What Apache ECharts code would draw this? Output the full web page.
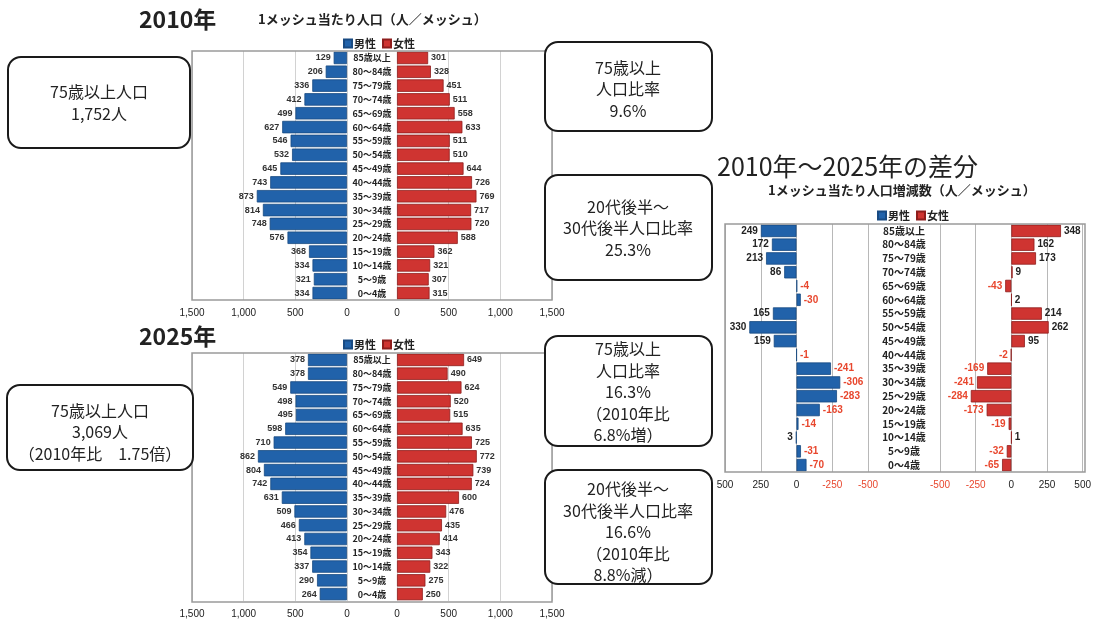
<!DOCTYPE html>
<html><head><meta charset="utf-8">
<script src="https://cdn.jsdelivr.net/npm/echarts@6/dist/echarts.min.js"></script>
<style>html,body{margin:0;padding:0;background:#fff}#c{width:1094px;height:619px}</style>
</head><body><div id="c"></div>
<script>
const ageCats = ['85歳以上','80～84歳','75～79歳','70～74歳','65～69歳','60～64歳','55～59歳','50～54歳','45～49歳','40～44歳','35～39歳','30～34歳','25～29歳','20～24歳','15～19歳','10～14歳','5～9歳','0～4歳'];
const male2010 = [129,206,336,412,499,627,546,532,645,743,873,814,748,576,368,334,321,334];
const female2010 = [301,328,451,511,558,633,511,510,644,726,769,717,720,588,362,321,307,315];
const male2025 = [378,378,549,498,495,598,710,862,804,742,631,509,466,413,354,337,290,264];
const female2025 = [649,490,624,520,515,635,725,772,739,724,600,476,435,414,343,322,275,250];
const maleDiff = [249,172,213,86,-4,-30,165,330,159,-1,-241,-306,-283,-163,-14,3,-31,-70];
const femaleDiff = [348,162,173,9,-43,2,214,262,95,-2,-169,-241,-284,-173,-19,1,-32,-65];
const pyramidTicks = [0,500,1000,1500];
const diffTicks = [-500,-250,0,250,500];

const FONT = "'Noto Sans CJK JP', sans-serif";
const BLUE = '#2162aa', BLUE_B = '#184a82';
const RED = '#cf3431', RED_B = '#8e1d1c';
const NEG = '#e8472e';

const chart = echarts.init(document.getElementById('c'), null, {renderer:'canvas'});

function fmtThousands(v){ return String(v).replace(/\B(?=(\d{3})+(?!\d))/g, ','); }

function pyrX(grid, inverse){
  return {type:'value', gridIndex:grid, min:pyramidTicks[0], max:pyramidTicks[pyramidTicks.length-1], interval:pyramidTicks[1]-pyramidTicks[0],
    inverse:inverse, axisLine:{show:false}, axisTick:{show:false},
    splitLine:{show:true, lineStyle:{color:'#d2d2d2', width:1}},
    axisLabel:{formatter:fmtThousands, fontSize:10, color:'#222', margin:8, showMinLabel:true, showMaxLabel:true, fontFamily:'Liberation Sans'}};
}
function diffX(grid, inverse){
  return {type:'value', gridIndex:grid, min:diffTicks[0], max:diffTicks[diffTicks.length-1], interval:diffTicks[1]-diffTicks[0],
    inverse:inverse, axisLine:{show:false}, axisTick:{show:false},
    splitLine:{show:true, lineStyle:{color:'#b8b8b8', width:1}},
    axisLabel:{fontSize:10, color:'#222', margin:8, showMinLabel:true, showMaxLabel:true, fontFamily:'Liberation Sans',
      formatter:v => v < 0 ? '{n|' + v + '}' : '' + v, rich:{n:{color:NEG, fontSize:10, fontFamily:'Liberation Sans'}}}};
}
function catY(grid, showLabels, margin, fs){
  return {type:'category', gridIndex:grid, data:ageCats, inverse:true, position:'right',
    axisLine:{show:false}, axisTick:{show:false}, splitLine:{show:false},
    axisLabel:{show:showLabels, margin:margin, align:'center', fontSize:fs, fontWeight:'bold', color:'#222', fontFamily:FONT}};
}
function pyrSeries(name, data, idx, isMale){
  return {type:'bar', name:name, xAxisIndex:idx, yAxisIndex:idx, data:data, barCategoryGap:'10%',
    itemStyle:{color:isMale?BLUE:RED, borderColor:isMale?BLUE_B:RED_B, borderWidth:0.8},
    label:{show:true, position:isMale?'left':'right', distance:3, fontSize:9, fontWeight:'bold', color:'#333', fontFamily:'Liberation Sans'},
    emphasis:{disabled:true}, animation:false};
}
function diffSeries(name, data, idx, isMale){
  const d = data.map(v => {
    const pos = (v >= 0) === isMale ? 'left' : 'right';
    return {value:v, label:{position: isMale ? (v>=0?'left':'right') : (v>=0?'right':'left'), color: v<0?NEG:'#222'}};
  });
  return {type:'bar', name:name, xAxisIndex:idx, yAxisIndex:idx, data:d, barCategoryGap:'10%',
    itemStyle:{color:isMale?BLUE:RED, borderColor:isMale?BLUE_B:RED_B, borderWidth:0.8},
    label:{show:true, distance:3, fontSize:10, fontWeight:'bold', fontFamily:'Liberation Sans'},
    emphasis:{disabled:true}, animation:false};
}

function box(x,y,w,h){
  return {type:'rect', shape:{x:x,y:y,width:w,height:h,r:13}, style:{fill:'#fff', stroke:'#1a1a1a', lineWidth:2}, z:10};
}
function boxText(cx, cy, lines){
  return {type:'text', x:cx, y:cy, z:11, style:{text:lines.join('\n'), font:'16px '+FONT, fill:'#222', textAlign:'center', textVerticalAlign:'middle', lineHeight:21.5}};
}
function txt(x, y, t, size, weight){
  return {type:'text', x:x, y:y, z:11, style:{text:t, font:(weight||'normal')+' '+size+'px '+FONT, fill:'#222', textAlign:'left', textVerticalAlign:'middle'}};
}

const legendBase = {data:['男性','女性'], itemWidth:8, itemHeight:8, itemGap:6, icon:'rect', selectedMode:false,
  textStyle:{fontSize:11, fontWeight:'bold', color:'#222', fontFamily:FONT, padding:[0,0,0,-3]}};

const option = {
  backgroundColor:'#fff',
  animation:false,
  textStyle:{fontFamily:FONT},
  legend:[
    Object.assign({}, legendBase, {left:338, top:33}),
    Object.assign({}, legendBase, {left:338, top:334}),
    Object.assign({}, legendBase, {left:872, top:205})
  ],
  grid:[
    {left:192, top:51, width:155, height:249},
    {left:397, top:51, width:155, height:249},
    {left:192, top:353, width:155, height:249},
    {left:397, top:353, width:155, height:249},
    {left:725, top:224, width:143, height:248},
    {left:940, top:224, width:145, height:248}
  ],
  xAxis:[pyrX(0,true), pyrX(1,false), pyrX(2,true), pyrX(3,false), diffX(4,true), diffX(5,false)],
  yAxis:[catY(0,true,25,9), catY(1,false,0,9), catY(2,true,25,9), catY(3,false,0,9), catY(4,true,36,10), catY(5,false,0,10)],
  series:[
    pyrSeries('男性', male2010, 0, true),
    pyrSeries('女性', female2010, 1, false),
    pyrSeries('男性', male2025, 2, true),
    pyrSeries('女性', female2025, 3, false),
    diffSeries('男性', maleDiff, 4, true),
    diffSeries('女性', femaleDiff, 5, false)
  ],
  graphic:[
    {type:'rect', shape:{x:192,y:51,width:360,height:249}, style:{fill:'none', stroke:'#9a9a9a', lineWidth:1.5}, z:5},
    {type:'rect', shape:{x:192,y:353,width:360,height:249}, style:{fill:'none', stroke:'#9a9a9a', lineWidth:1.5}, z:5},
    {type:'rect', shape:{x:725,y:224,width:360,height:248}, style:{fill:'none', stroke:'#9a9a9a', lineWidth:1.5}, z:5},
    txt(139, 19, '2010年', 23, 'bold'),
    txt(258, 19, '1メッシュ当たり人口（人／メッシュ）', 13, 'bold'),
    txt(139, 336, '2025年', 23, 'bold'),
    txt(717, 166, '2010年～2025年の差分', 25, 'normal'),
    txt(768, 190, '1メッシュ当たり人口増減数（人／メッシュ）', 13, 'bold'),
    box(8,57,182,91), boxText(99,103,['75歳以上人口','1,752人']),
    box(545,42,167,89), boxText(628,89,['75歳以上','人口比率','9.6%']),
    box(545,175,167,105), boxText(628,228,['20代後半～','30代後半人口比率','25.3%']),
    box(7,385,186,85), boxText(100,432,['75歳以上人口','3,069人','（2010年比　1.75倍）']),
    box(545,336,167,110), boxText(628,392,['75歳以上','人口比率','16.3%','（2010年比','6.8%増）']),
    box(545,470,167,114), boxText(628,532,['20代後半～','30代後半人口比率','16.6%','（2010年比','8.8%減）'])
  ]
};
chart.setOption(option);
</script>
</body></html>
